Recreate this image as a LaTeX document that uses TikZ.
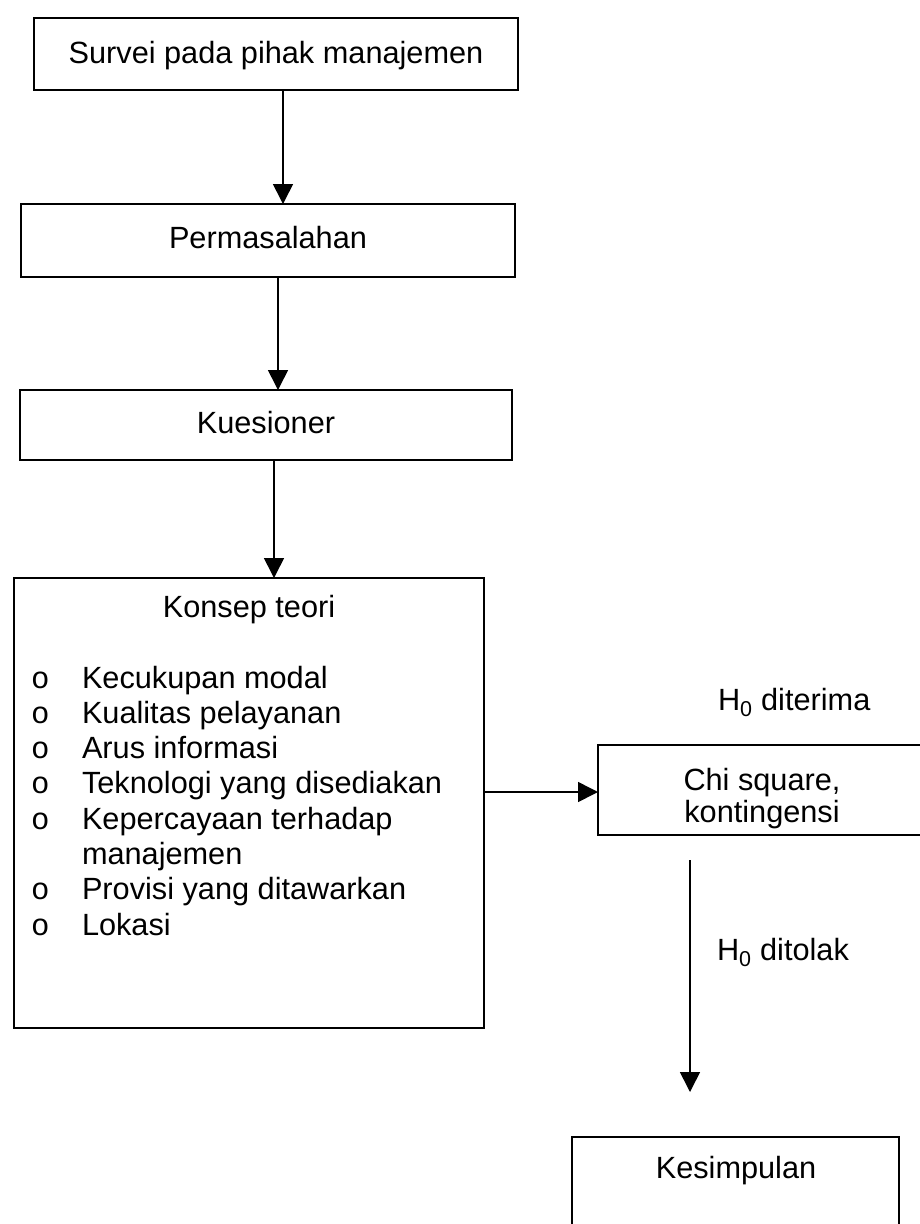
\documentclass[tikz,border=0pt]{standalone}
\usepackage{fontspec}
\setmainfont{Liberation Sans}
\newfontfamily\bulletfont{Liberation Mono}
\usetikzlibrary{arrows.meta,calc}
\begin{document}
\begin{tikzpicture}[x=1pt,y=-1pt,
  box/.style={draw, line width=2pt, inner sep=0pt, outer sep=0pt},
  txt/.style={inner sep=0pt, outer sep=0pt, anchor=base},
  lbl/.style={inner sep=0pt, outer sep=0pt, anchor=base west},
  dot/.style={lbl, font=\bulletfont\fontsize{30.7}{34}\selectfont},
  flow/.style={line width=1.6pt, -{Triangle[length=20pt,width=20pt]}},
  every node/.append style={font=\fontsize{30.7}{34}\selectfont}]
\clip (0,0) rectangle (920,1224);
\useasboundingbox (0,0) rectangle (920,1224);

% main column: boxes
\node[box, minimum width=484pt, minimum height=72pt] (b1) at (276,54) {};
\node[box, minimum width=494pt, minimum height=73pt] (b2) at (268,240.5) {};
\node[box, minimum width=492pt, minimum height=70pt] (b3) at (266,425) {};
\node[box, minimum width=470pt, minimum height=450pt] (b4) at (249,803) {};

% main column: labels
\node[txt] (t1) at (276,63) {Survei pada pihak manajemen};
\node[txt] (t2) at (268,248) {Permasalahan};
\node[txt] (t3) at (266,433) {Kuesioner};

% contents of the theory box
\node[txt] (k0) at (249,617) {Konsep teori};
\foreach \i/\t in {1/Kecukupan modal, 2/Kualitas pelayanan, 3/Arus informasi,
                   4/Teknologi yang disediakan, 5/Kepercayaan terhadap}{
  \node[dot] (bu\i) at (31,688+35.3*\i-35.3) {o};
  \node[lbl] (it\i) at (82,688+35.3*\i-35.3) {\t};
}
\node[lbl] (it5b) at (82,864.5) {manajemen};
\node[dot] (bu6) at (31,899.8) {o};
\node[lbl] (it6) at (82,899.8) {Provisi yang ditawarkan};
\node[dot] (bu7) at (31,935.1) {o};
\node[lbl] (it7) at (82,935.1) {Lokasi};

% right column (the test box runs past the right margin)
\node[box, minimum width=328pt, minimum height=90pt] (b5) at (762,790) {};
\node[txt] (t5a) at (762,790) {Chi square,};
\node[txt] (t5b) at (762,822) {kontingensi};
\node[box, minimum width=327pt, minimum height=120pt] (b6) at (735.5,1197) {};
\node[txt] (k6) at (736,1178) {Kesimpulan};

\node[lbl] (h1) at (718,710) {H\textsubscript{0} diterima};
\node[lbl] (h2) at (717,960) {H\textsubscript{0} ditolak};

% connectors
\coordinate (x1) at (283,0);
\coordinate (x2) at (278,0);
\coordinate (x3) at (274,0);
\coordinate (y4) at (0,792);
\coordinate (d0) at (690,860);
\coordinate (d1) at (690,1092);
\draw[flow] (b1.south -| x1) -- (b2.north -| x1);
\draw[flow] (b2.south -| x2) -- (b3.north -| x2);
\draw[flow] (b3.south -| x3) -- (b4.north -| x3);
\draw[flow] (b4.east |- y4) -- (b5.west |- y4);
\draw[flow] (d0) -- (d1);
\end{tikzpicture}
\end{document}
